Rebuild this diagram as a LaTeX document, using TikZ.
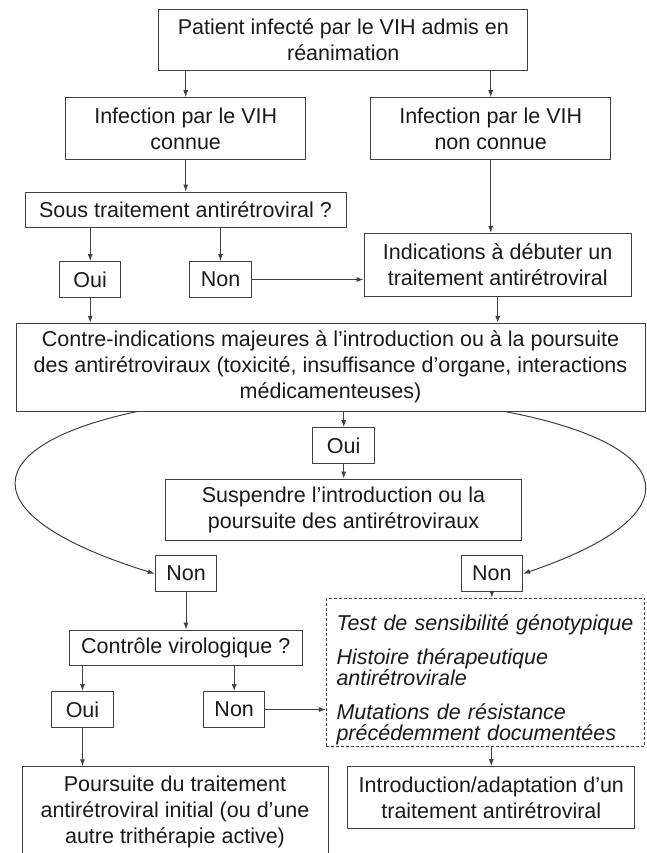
\documentclass[tikz,border=0pt]{standalone}
\usepackage{fontspec}
\setmainfont{Liberation Sans}
\usetikzlibrary{arrows.meta}
\definecolor{fcline}{HTML}{404040}
\definecolor{fctext}{HTML}{1A1A1A}
\newcommand{\boxfont}{\fontsize{21.5}{26}\selectfont}
\newcommand{\notefont}{\fontsize{21.5}{21}\selectfont\itshape}

\begin{document}
\begin{tikzpicture}[x=1pt,y=-1pt,>={Latex[length=7pt,width=5pt]},line width=1pt,
    box/.style={draw=fcline,text=fctext,inner sep=0pt,align=center,font=\boxfont},
    yn/.style={box,minimum width=61.5pt,minimum height=35.8pt},
    note/.style={box,dash pattern=on 3pt off 2pt,line width=0.8pt,align=left,font=\notefont},
    arr/.style={->,draw=fcline}]
    \useasboundingbox (0,0) rectangle (646,853);
    \node[box,minimum width=369.3pt,minimum height=61.4pt] (top) at (343.3,40) {Patient infecté par le VIH admis en\\réanimation};
    \node[box,minimum width=240pt,minimum height=61.6pt] (known) at (185.7,128.5) {Infection par le VIH\\connue};
    \node[box,minimum width=240pt,minimum height=61.6pt] (unknown) at (490.7,128.5) {Infection par le VIH\\non connue};
    \node[box,minimum width=321pt,minimum height=35.3pt] (treat) at (185.5,209.7) {Sous traitement antirétroviral ?};
    \node[yn] (yes1) at (90.2,279.5) {Oui};
    \node[yn] (no1) at (220.5,279.5) {Non};
    \node[box,minimum width=267.3pt,minimum height=62.7pt] (ind) at (497.7,264.7) {Indications à débuter un\\traitement antirétroviral};
    \node[box,minimum width=629pt,minimum height=87.7pt] (contra) at (330.5,367.2) {Contre-indications majeures à l’introduction ou à la poursuite\\des antirétroviraux (toxicité, insuffisance d’organe, interactions\\médicamenteuses)};
    \node[yn] (yes2) at (343.7,445.5) {Oui};
    \node[box,minimum width=356.4pt,minimum height=61.7pt] (stop) at (343.5,509.9) {Suspendre l’introduction ou la\\poursuite des antirétroviraux};
    \node[yn] (no2l) at (186,573.7) {Non};
    \node[yn] (no2r) at (491.9,573.7) {Non};
    \node[box,minimum width=233.3pt,minimum height=35.7pt] (viro) at (185.7,647.9) {Contrôle virologique ?};
    \node[yn] (yes3) at (82.5,709.5) {Oui};
    \node[yn] (no3) at (234.2,709.5) {Non};
    \node[note,minimum width=318.4pt,minimum height=148.4pt,text width=298pt] (tests) at (485.5,672.5) {\rule{0pt}{30pt}Test de sensibilité génotypique\\[13pt]Histoire thérapeutique\\antirétrovirale\\[13pt]Mutations de résistance\\précédemment documentées};
    \node[box,minimum width=306pt,minimum height=91pt] (keep) at (175,812.3) {Poursuite du traitement\\antirétroviral initial (ou d’une\\autre trithérapie active)};
    \node[box,minimum width=286.7pt,minimum height=61.6pt] (adapt) at (491.3,797.5) {Introduction/adaptation d’un\\traitement antirétroviral};
    \draw[arr](top.south -| known.north)--(known.north);\draw[arr](top.south -| unknown.north)--(unknown.north);
    \draw[arr](known.south)--(known.south |- treat.north);\draw[arr](unknown.south)--(unknown.south |- ind.north);
    \draw[arr](treat.south -| yes1.north)--(yes1.north);\draw[arr](treat.south -| no1.north)--(no1.north);
    \draw[arr](no1.east)--(no1.east -| ind.west);
    \draw[arr](yes1.south)--(yes1.south |- contra.north);\draw[arr](ind.south)--(ind.south |- contra.north);
    \draw[arr](contra.south -| yes2.north)--(yes2.north);\draw[arr](yes2.south)--(yes2.south |- stop.north);
    \draw[arr]([xshift=-193.5pt]contra.south) .. controls (-20,445) and (-35,515) .. (no2l.west);
    \draw[arr]([xshift=174.5pt]contra.south) .. controls (680,445) and (696,515) .. (no2r.east);
    \draw[arr](no2l.south)--(no2l.south |- viro.north);\draw[arr](no2r.south)--(no2r.south |- tests.north);
    \draw[arr](viro.south -| yes3.north)--(yes3.north);\draw[arr](viro.south -| no3.north)--(no3.north);
    \draw[arr](no3.east)--(no3.east -| tests.west);
    \draw[arr](yes3.south)--(yes3.south |- keep.north);\draw[arr](tests.south -| adapt.north)--(adapt.north);
\end{tikzpicture}
\end{document}
